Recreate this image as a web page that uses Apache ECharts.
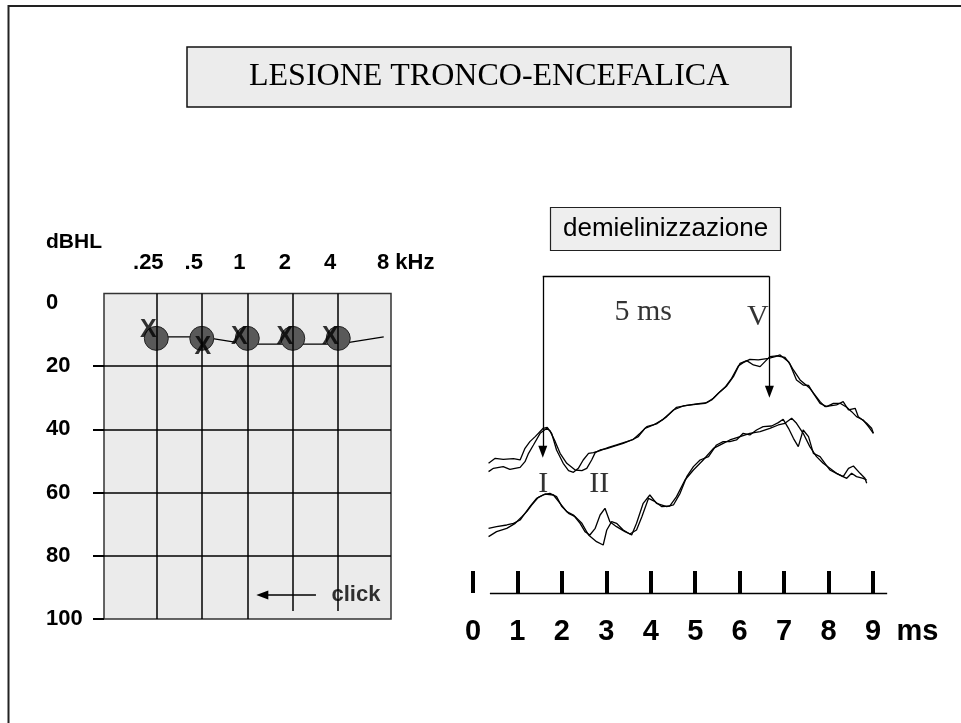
<!DOCTYPE html>
<html>
<head>
<meta charset="utf-8">
<script src="https://cdn.jsdelivr.net/npm/echarts@6/dist/echarts.min.js"></script>
<style>
  html, body { margin: 0; padding: 0; background: #fff; }
  #chart { width: 961px; height: 723px; }
</style>
</head>
<body>
<div id="chart"></div>
<script>
// --- audiogramma ---
const freqLabels = ['.25', '.5', '1', '2', '4', '8 kHz'];
const dbLabels = [0, 20, 40, 60, 80, 100];
const dbTicks = [20, 40, 60, 80, 100];
const dbGrid = [20, 40, 60, 80];
const circleDb = [11.2, 11.2, 11.2, 11.2, 11.2];   // O
const crossDb = [8.5, 13.9, 10.8, 10.8, 10.8];     // X
const thresholdDb = [10.7, 10.7, 13, 13, 13, 10.7];
const clickArrow = { from: 3.51, to: 2.33, db: 92.4 };
const clickLabel = [4.39, 92.4];

// --- potenziali evocati (ms, ampiezza) ---
const msTicks = [0, 1, 2, 3, 4, 5, 6, 7, 8, 9];
const msAxisSpan = [0.38, 9.32];
const traceA1 = [[0.35,3.89],[0.50,4.04],[0.68,4.01],[0.91,4.03],[1.06,3.99],[1.17,4.34],[1.28,4.54],[1.40,4.69],[1.58,4.94],[1.67,4.97],[1.77,4.79],[1.88,4.29],[2.03,3.89],[2.15,3.67],[2.26,3.62],[2.37,3.74],[2.48,3.99],[2.60,4.19],[2.71,4.21],[2.86,4.27],[3.05,4.37],[3.23,4.44],[3.46,4.54],[3.61,4.61],[3.76,4.79],[3.91,4.99],[4.13,5.07],[4.36,5.29],[4.58,5.57],[4.81,5.63],[5.03,5.67],[5.26,5.71],[5.41,5.84],[5.56,6.04],[5.71,6.21],[5.86,6.49],[6.01,6.89],[6.16,6.97],[6.31,6.84],[6.46,6.79],[6.57,6.94],[6.68,7.09],[6.83,7.11],[7.02,7.07],[7.13,6.87],[7.28,6.39],[7.43,6.24],[7.55,6.23],[7.66,5.99],[7.81,5.69],[7.96,5.59],[8.11,5.69],[8.26,5.69],[8.41,5.57],[8.52,5.44],[8.63,5.29],[8.78,5.19],[8.90,4.99],[9.01,4.79]];
const traceA2 = [[0.35,3.64],[0.46,3.74],[0.68,3.79],[0.83,3.71],[1.06,3.77],[1.17,3.94],[1.25,4.19],[1.36,4.44],[1.51,4.79],[1.66,4.94],[1.73,4.87],[1.85,4.54],[1.96,4.19],[2.11,3.89],[2.30,3.69],[2.45,3.67],[2.56,3.74],[2.67,3.99],[2.75,4.21],[2.86,4.29],[3.01,4.33],[3.20,4.41],[3.38,4.49],[3.57,4.59],[3.72,4.69],[3.87,4.94],[4.06,5.04],[4.28,5.21],[4.51,5.49],[4.73,5.61],[4.96,5.65],[5.22,5.69],[5.37,5.79],[5.52,5.99],[5.67,6.17],[5.82,6.44],[5.97,6.81],[6.08,6.91],[6.23,7.01],[6.42,6.99],[6.65,7.04],[6.80,7.09],[6.91,7.14],[7.10,6.94],[7.21,6.69],[7.36,6.39],[7.58,6.14],[7.81,5.74],[7.92,5.59],[8.18,5.64],[8.33,5.74],[8.45,5.49],[8.60,5.54],[8.67,5.29],[8.86,5.09],[8.97,4.94],[9.01,4.79]];
const traceB1 = [[0.35,1.94],[0.53,1.99],[0.76,2.04],[0.91,2.09],[1.06,2.19],[1.17,2.39],[1.28,2.59],[1.43,2.84],[1.58,2.94],[1.73,2.99],[1.88,2.89],[2.00,2.59],[2.15,2.39],[2.30,2.29],[2.45,2.09],[2.60,1.74],[2.78,1.54],[2.93,1.44],[3.01,1.89],[3.12,2.14],[3.23,2.09],[3.38,1.89],[3.57,1.74],[3.68,2.09],[3.83,2.69],[3.98,2.94],[4.13,2.69],[4.36,2.59],[4.51,2.64],[4.66,2.99],[4.81,3.49],[4.96,3.79],[5.11,3.99],[5.30,4.09],[5.48,4.44],[5.63,4.54],[5.78,4.54],[5.93,4.59],[6.08,4.79],[6.23,4.74],[6.38,4.89],[6.53,4.99],[6.72,5.01],[6.87,5.11],[6.98,5.21],[7.10,4.94],[7.21,4.64],[7.32,4.39],[7.43,4.89],[7.55,4.69],[7.66,4.19],[7.81,4.09],[7.92,3.89],[8.03,3.69],[8.18,3.59],[8.33,3.49],[8.45,3.74],[8.56,3.81],[8.71,3.59],[8.82,3.44],[8.86,3.29]];
const traceB2 = [[0.35,1.69],[0.53,1.84],[0.76,1.94],[0.95,2.09],[1.10,2.29],[1.21,2.44],[1.32,2.64],[1.47,2.87],[1.62,2.97],[1.81,2.94],[1.96,2.69],[2.11,2.44],[2.26,2.34],[2.41,2.09],[2.52,1.84],[2.63,1.74],[2.75,1.94],[2.86,2.34],[2.97,2.54],[3.08,2.14],[3.23,1.99],[3.42,1.84],[3.53,1.77],[3.68,1.89],[3.80,2.29],[3.95,2.84],[4.10,2.74],[4.25,2.59],[4.43,2.61],[4.58,2.89],[4.77,3.39],[4.96,3.69],[5.18,3.99],[5.41,4.34],[5.63,4.49],[5.78,4.59],[6.01,4.69],[6.23,4.79],[6.46,4.84],[6.68,4.94],[6.87,5.04],[7.02,5.09],[7.17,5.24],[7.28,5.09],[7.43,4.79],[7.58,4.39],[7.73,4.09],[7.88,3.89],[8.03,3.74],[8.18,3.59],[8.41,3.44],[8.52,3.59],[8.63,3.49],[8.78,3.44],[8.86,3.39]];
const peakI = { ms: 1.57, tip: 4.24 };
const peakV = { ms: 6.67, tip: 6.04 };
const bracketTop = 9.5;
const waveLabels = [
  { name: '5 ms', value: [3.83, 8.43] },
  { name: 'V', value: [6.41, 8.28] },
  { name: 'I', value: [1.58, 3.27] },
  { name: 'II', value: [2.84, 3.27] }
];

const sans = 'Liberation Sans';
const serif = 'Liberation Serif';
const black = { color: '#000', width: 1.5, type: 'solid' };

// linee della griglia dell'audiogramma
const audioLines = [];
freqLabels.slice(0, 5).forEach((f, i) => {
  const end = i >= 3 ? [-3, 97.5] : [-3, 100];
  audioLines.push([{ coord: [i, end[0]] }, { coord: [i, end[1]] }]);
});
dbGrid.forEach(v => audioLines.push({ yAxis: v }));
audioLines.push([
  { coord: [clickArrow.from, clickArrow.db], symbol: 'none' },
  { coord: [clickArrow.to, clickArrow.db], symbol: 'triangle', symbolSize: [9, 12] }
]);

const bracket = [
  [{ coord: [peakI.ms, bracketTop] }, { coord: [peakV.ms, bracketTop] }],
  [{ coord: [peakI.ms, bracketTop], symbol: 'none' }, { coord: [peakI.ms, peakI.tip], symbol: 'triangle', symbolSize: [9, 12] }],
  [{ coord: [peakV.ms, bracketTop], symbol: 'none' }, { coord: [peakV.ms, peakV.tip], symbol: 'triangle', symbolSize: [9, 12] }],
  [{ coord: [msAxisSpan[0], 0] }, { coord: [msAxisSpan[1], 0] }]
];

function traceSeries(data, extra) {
  return Object.assign({
    type: 'line',
    xAxisIndex: 1,
    yAxisIndex: 1,
    data: data,
    showSymbol: false,
    silent: true,
    lineStyle: { color: '#000', width: 1.3 }
  }, extra || {});
}

const chart = echarts.init(document.getElementById('chart'), null, { renderer: 'canvas' });
const option = {
  animation: false,
  backgroundColor: '#fff',
  title: [
    {
      text: 'LESIONE TRONCO-ENCEFALICA',
      left: 187, top: 47,
      padding: [14, 62],
      backgroundColor: '#ececec',
      borderColor: '#111', borderWidth: 1.5,
      textStyle: { fontFamily: serif, fontSize: 32, fontWeight: 'normal', color: '#000' }
    },
    {
      text: 'demielinizzazione',
      left: 550, top: 207,
      padding: [9, 13],
      backgroundColor: '#eeeeee',
      borderColor: '#222', borderWidth: 1.2,
      textStyle: { fontFamily: sans, fontSize: 26, fontWeight: 'normal', color: '#000' }
    },
    {
      text: 'dBHL',
      left: 46, top: 232, padding: 0,
      textStyle: { fontFamily: sans, fontSize: 21, fontWeight: 'bold', color: '#000' }
    }
  ],
  graphic: [{
    type: 'rect',
    shape: { x: 8.5, y: 6, width: 1000, height: 800 },
    style: { fill: 'none', stroke: '#222', lineWidth: 2 },
    silent: true
  }],
  grid: [
    {
      left: 104, top: 293.5, width: 287, height: 325.5,
      show: true, backgroundColor: '#ebebeb', borderColor: '#333', borderWidth: 1.5,
      outerBoundsMode: 'none'
    },
    {
      left: 473, top: 276.3, width: 415.5, height: 316.7,
      outerBoundsMode: 'none'
    }
  ],
  xAxis: [
    {
      gridIndex: 0, type: 'value', position: 'top',
      min: -1.15, max: 5.16,
      axisLine: { show: false, onZero: false }, axisTick: { show: false }, splitLine: { show: false },
      axisLabel: {
        customValues: [0, 1, 2, 3, 4, 5],
        margin: 20,
        formatter: v => {
          const t = freqLabels[Math.round(v)];
          return Math.round(v) === 5 ? '{b|' + t + '}' : '{a|' + t + '}';
        },
        rich: {
          a: { fontFamily: sans, fontSize: 22, fontWeight: 'bold', color: '#000', padding: [0, 16, 0, 0] },
          b: { fontFamily: sans, fontSize: 22, fontWeight: 'bold', color: '#000', padding: [0, 0, 0, 44] }
        }
      }
    },
    {
      gridIndex: 1, type: 'value',
      min: 0, max: 9.35,
      axisLine: { show: false, onZero: false }, splitLine: { show: false },
      axisTick: { customValues: msTicks, inside: true, length: 22, lineStyle: { color: '#000', width: 4 } },
      axisLabel: {
        customValues: msTicks, margin: 24,
        fontFamily: sans, fontSize: 29, fontWeight: 'bold', color: '#000'
      },
      name: 'ms', nameLocation: 'end', nameGap: 8,
      nameTextStyle: { fontFamily: sans, fontSize: 29, fontWeight: 'bold', color: '#000', verticalAlign: 'top', padding: [24, 0, 0, 0] }
    }
  ],
  yAxis: [
    {
      gridIndex: 0, type: 'value', inverse: true,
      min: -3, max: 100,
      axisLine: { show: false, onZero: false }, splitLine: { show: false },
      axisTick: { customValues: dbTicks, length: 11, lineStyle: { color: '#000', width: 2 } },
      axisLabel: {
        customValues: dbLabels, align: 'left', margin: 58,
        fontFamily: sans, fontSize: 22, fontWeight: 'bold', color: '#000'
      }
    },
    { gridIndex: 1, type: 'value', min: 0, max: 9.5, show: false }
  ],
  series: [
    {
      type: 'line', xAxisIndex: 0, yAxisIndex: 0,
      data: thresholdDb.map((v, i) => [i, v]),
      showSymbol: false, silent: true,
      lineStyle: { color: '#000', width: 1.2 },
      markLine: {
        silent: true, symbol: ['none', 'none'],
        label: { show: false },
        lineStyle: black,
        data: audioLines
      },
      z: 2
    },
    {
      type: 'scatter', xAxisIndex: 0, yAxisIndex: 0,
      data: circleDb.map((v, i) => [i, v]),
      symbol: 'circle', symbolSize: 24, silent: true,
      itemStyle: { color: '#595959', borderColor: '#222', borderWidth: 1, opacity: 1 },
      z: 3
    },
    {
      type: 'scatter', xAxisIndex: 0, yAxisIndex: 0,
      data: crossDb.map((v, i) => ({ value: [i, v], label: { offset: [i === 1 ? 1 : -8, 0] } })),
      symbolSize: 1, silent: true,
      itemStyle: { color: 'rgba(0,0,0,0)' },
      label: { show: true, position: 'inside', formatter: 'X', fontFamily: sans, fontSize: 25, fontWeight: 'bold', color: '#000' },
      z: 4
    },
    {
      type: 'scatter', xAxisIndex: 0, yAxisIndex: 0,
      data: [clickLabel],
      symbolSize: 1, silent: true,
      itemStyle: { color: 'rgba(0,0,0,0)' },
      label: { show: true, position: 'inside', formatter: 'click', fontFamily: sans, fontSize: 22, fontWeight: 'bold', color: '#000' },
      z: 4
    },
    traceSeries(traceA1, {
      markLine: {
        silent: true, symbol: ['none', 'none'],
        label: { show: false },
        lineStyle: { color: '#000', width: 1.3, type: 'solid' },
        data: bracket
      }
    }),
    traceSeries(traceA2),
    traceSeries(traceB1),
    traceSeries(traceB2),
    {
      type: 'scatter', xAxisIndex: 1, yAxisIndex: 1,
      data: waveLabels,
      symbolSize: 1, silent: true,
      itemStyle: { color: 'rgba(0,0,0,0)' },
      label: { show: true, position: 'inside', formatter: p => p.name, fontFamily: serif, fontSize: 30, color: '#000' }
    }
  ]
};
chart.setOption(option);
</script>
</body>
</html>
